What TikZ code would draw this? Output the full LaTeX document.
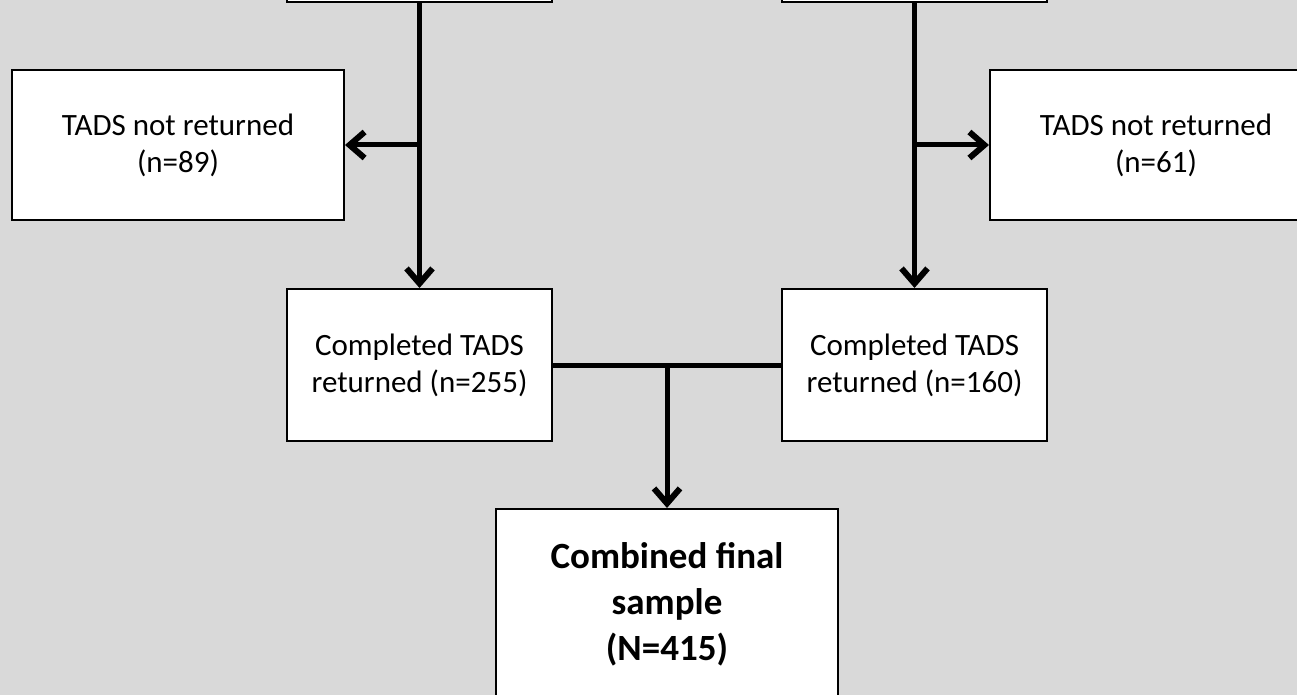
\documentclass[tikz,border=0pt]{standalone}
\usepackage{fontspec}
\setmainfont{Carlito}
\usetikzlibrary{arrows.meta,positioning}
\definecolor{PanelGray}{RGB}{217,217,217}
\definecolor{BoxWhite}{RGB}{255,255,255}

\begin{document}
\begin{tikzpicture}[x=1pt, y=-1pt,
    box/.style={draw=black, fill=BoxWhite, line width=2pt, align=center, inner sep=0pt,
        font=\fontsize{31}{37}\selectfont},
    stepbox/.style={box, minimum width=265pt, minimum height=152pt},
    sidebox/.style={box, minimum width=332pt, minimum height=150pt},
    flow/.style={line width=5pt, -{Straight Barb[length=15pt, width=26pt, line width=6pt]}},
    link/.style={line width=5pt}]
    \useasboundingbox[fill=PanelGray] (0,0) rectangle (1297,695);
    % upper boxes, only their lower edge is on the page
    \node[stepbox] (TopLeft)  at (419.5,-74) {};
    \node[stepbox] (TopRight) at (914.5,-74) {};
    % excluded
    \node[sidebox] (NotLeft)  at (178,145)  {TADS not returned\\(n=89)};
    \node[sidebox] (NotRight) at (1156,145) {TADS not returned\\(n=61)};
    % returned
    \node[stepbox] (DoneLeft)  at (419.5,365) {Completed TADS\\returned (n=255)};
    \node[stepbox] (DoneRight) at (914.5,365) {Completed TADS\\returned (n=160)};
    \node[box, minimum width=342pt, minimum height=190pt,
        font=\fontsize{37}{46}\selectfont\bfseries] (Final) at (667,604)
        {Combined final\\sample\\(N=415)};
    \draw[flow] (TopLeft.south) -- (DoneLeft.north);
    \draw[flow] (TopLeft.south |- NotLeft.east) -- (NotLeft.east);
    \draw[flow] (TopRight.south) -- (DoneRight.north);
    \draw[flow] (TopRight.south |- NotRight.west) -- (NotRight.west);
    \draw[link] (DoneLeft.east) -- (DoneRight.west);
    \draw[flow] (Final.north |- DoneLeft.east) -- (Final.north);
\end{tikzpicture}
\end{document}
